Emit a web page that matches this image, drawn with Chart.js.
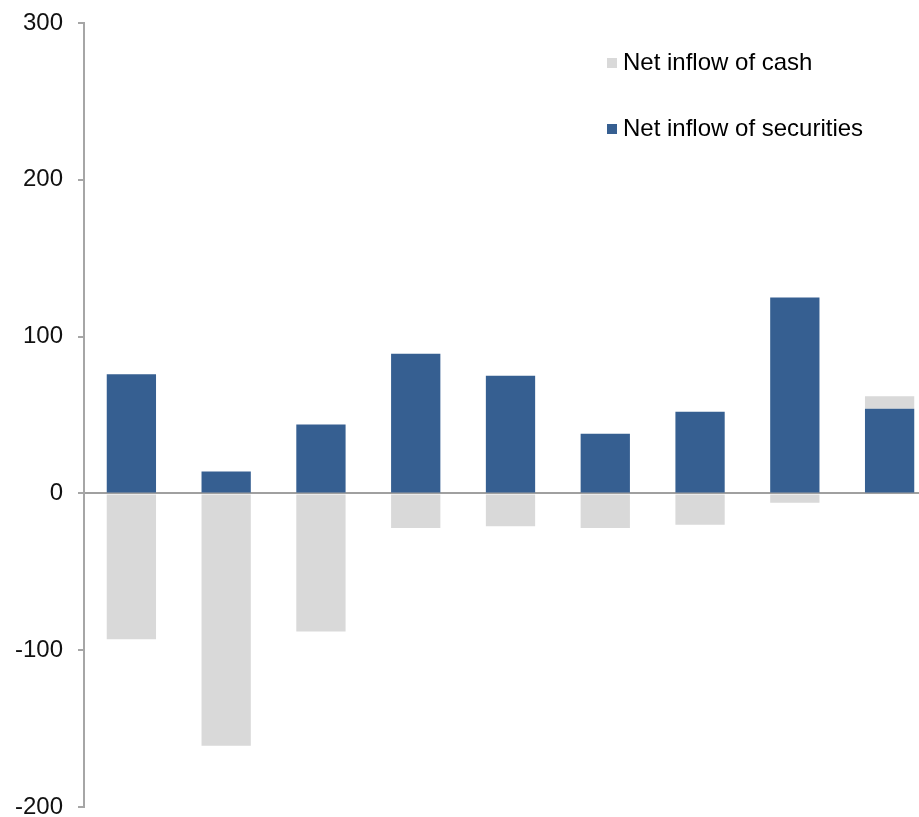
<!DOCTYPE html>
<html>
<head>
<meta charset="utf-8">
<script src="https://cdn.jsdelivr.net/npm/chart.js@4.4.0/dist/chart.umd.min.js"></script>
<style>
  html, body { margin: 0; padding: 0; background: #fff; overflow: hidden; }
  #wrap { width: 919px; height: 817px; overflow: hidden; }
  canvas { display: block; }
</style>
</head>
<body>
<div id="wrap"><canvas id="c" width="937" height="817"></canvas></div>
<script>
const categories = ['1', '2', '3', '4', '5', '6', '7', '8', '9'];
const securities = [76, 14, 44, 89, 75, 38, 52, 125, 54];
const cash = [-93, -161, -88, -22, -21, -22, -20, -6, 8];
const yTicks = [-200, -100, 0, 100, 200, 300];

const FONT = '"Liberation Sans", Arial, sans-serif';

const legendPlugin = {
  id: 'customLegend',
  afterDraw(chart) {
    const ctx = chart.ctx;
    const items = [chart.data.datasets[1], chart.data.datasets[0]];
    const x0 = 607, ys = [63, 129];
    ctx.save();
    ctx.font = '24px ' + FONT;
    ctx.textBaseline = 'middle';
    items.forEach((ds, i) => {
      ctx.fillStyle = ds.backgroundColor;
      ctx.fillRect(x0, ys[i] - 5, 10, 10);
      ctx.fillStyle = '#000';
      ctx.fillText(ds.label, x0 + 16, ys[i]);
    });
    ctx.restore();
  }
};

new Chart(document.getElementById('c'), {
  type: 'bar',
  data: {
    labels: categories,
    datasets: [
      { label: 'Net inflow of securities', data: securities, backgroundColor: '#365F91' },
      { label: 'Net inflow of cash', data: cash, backgroundColor: '#D9D9D9' }
    ]
  },
  options: {
    responsive: false,
    animation: false,
    layout: { padding: { top: 23, right: 0, bottom: 10, left: 0 } },
    datasets: { bar: { categoryPercentage: 1, barPercentage: 0.52 } },
    plugins: { legend: { display: false }, tooltip: { enabled: false } },
    scales: {
      x: { stacked: true, display: false },
      y: {
        stacked: true,
        min: -200, max: 300,
        afterBuildTicks(scale) { scale.ticks = yTicks.map(v => ({ value: v })); },
        afterFit(scale) { scale.width = 84; scale.paddingTop = 0; scale.paddingBottom = 0; },
        border: { display: true, color: '#A6A6A6', width: 2 },
        grid: {
          drawOnChartArea: true,
          color: c => (c.tick && c.tick.value === 0) ? '#A0A0A0' : 'rgba(0,0,0,0)',
          lineWidth: 2,
          drawTicks: true,
          tickLength: 6,
          tickColor: '#A6A6A6',
          tickWidth: 2
        },
        ticks: { color: '#111', font: { family: FONT, size: 24 }, padding: 15 }
      }
    }
  },
  plugins: [legendPlugin]
});
</script>
</body>
</html>
